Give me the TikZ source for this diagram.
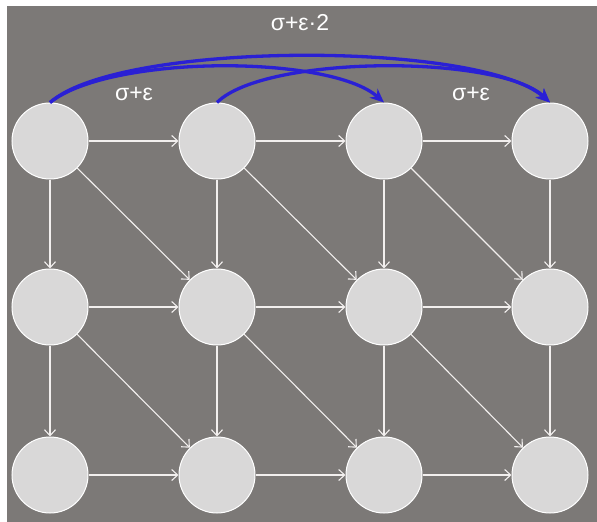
\documentclass[tikz,border=0pt]{standalone}
\usepackage{fontspec}
\setmainfont{Liberation Sans}
\usetikzlibrary{arrows.meta}
\definecolor{bgc}{HTML}{7C7977}
\definecolor{nodec}{HTML}{D9D8D8}
\definecolor{edgec}{HTML}{F2EFEE}
\definecolor{bluec}{HTML}{2A20D4}
\tikzset{
  vtx/.style={circle, fill=nodec, draw=white, line width=1pt, minimum size=76pt, inner sep=0pt},
  edg/.style={draw=edgec, line width=1.1pt, -{Straight Barb[length=6pt,width=11pt,line width=1.1pt]}},
  jump/.style={draw=bluec, line width=3.3pt, -{Stealth[length=14pt,width=12pt]}},
  lbl/.style={text=white, font=\fontsize{23}{26}\selectfont, anchor=base, inner sep=0pt}
}
\begin{document}
\begin{tikzpicture}[x=1pt,y=-1pt]
\useasboundingbox (0,0) rectangle (597,522);
\fill[white] (0,0) rectangle (597,522);
\fill[bgc] (7,6) rectangle (597,522);
% nodes
\foreach \r/\y in {1/141,2/307,3/475}{
  \foreach \c/\x in {1/50,2/217,3/384,4/550}{
    \node[vtx] (n\r\c) at (\x,\y) {};
  }
}
% horizontal edges
\foreach \r in {1,2,3}{
  \foreach \c/\d in {1/2,2/3,3/4}{
    \draw[edg] (n\r\c) -- (n\r\d);
  }
}
% vertical and diagonal edges
\foreach \r/\s in {1/2,2/3}{
  \foreach \c in {1,2,3,4}{
    \draw[edg] (n\r\c) -- (n\s\c);
  }
  \foreach \c/\d in {1/2,2/3,3/4}{
    \draw[edg] (n\r\c) -- (n\s\d);
  }
}
% blue jumps
\draw[jump] (n11.north) .. controls +(70,-62) and +(-70,-62) .. (n14.north);
\draw[jump] (n11.north) .. controls +(60,-48) and +(-54,-48) .. (n13.north);
\draw[jump] (n12.north) .. controls +(48,-48) and +(-50,-48) .. (n14.north);
% labels
\node[lbl] (l1) at (134,100) {σ+ε};
\node[lbl] (l2) at (471,100) {σ+ε};
\node[lbl] (l3) at (300,30) {σ+ε·2};
\end{tikzpicture}
\end{document}
